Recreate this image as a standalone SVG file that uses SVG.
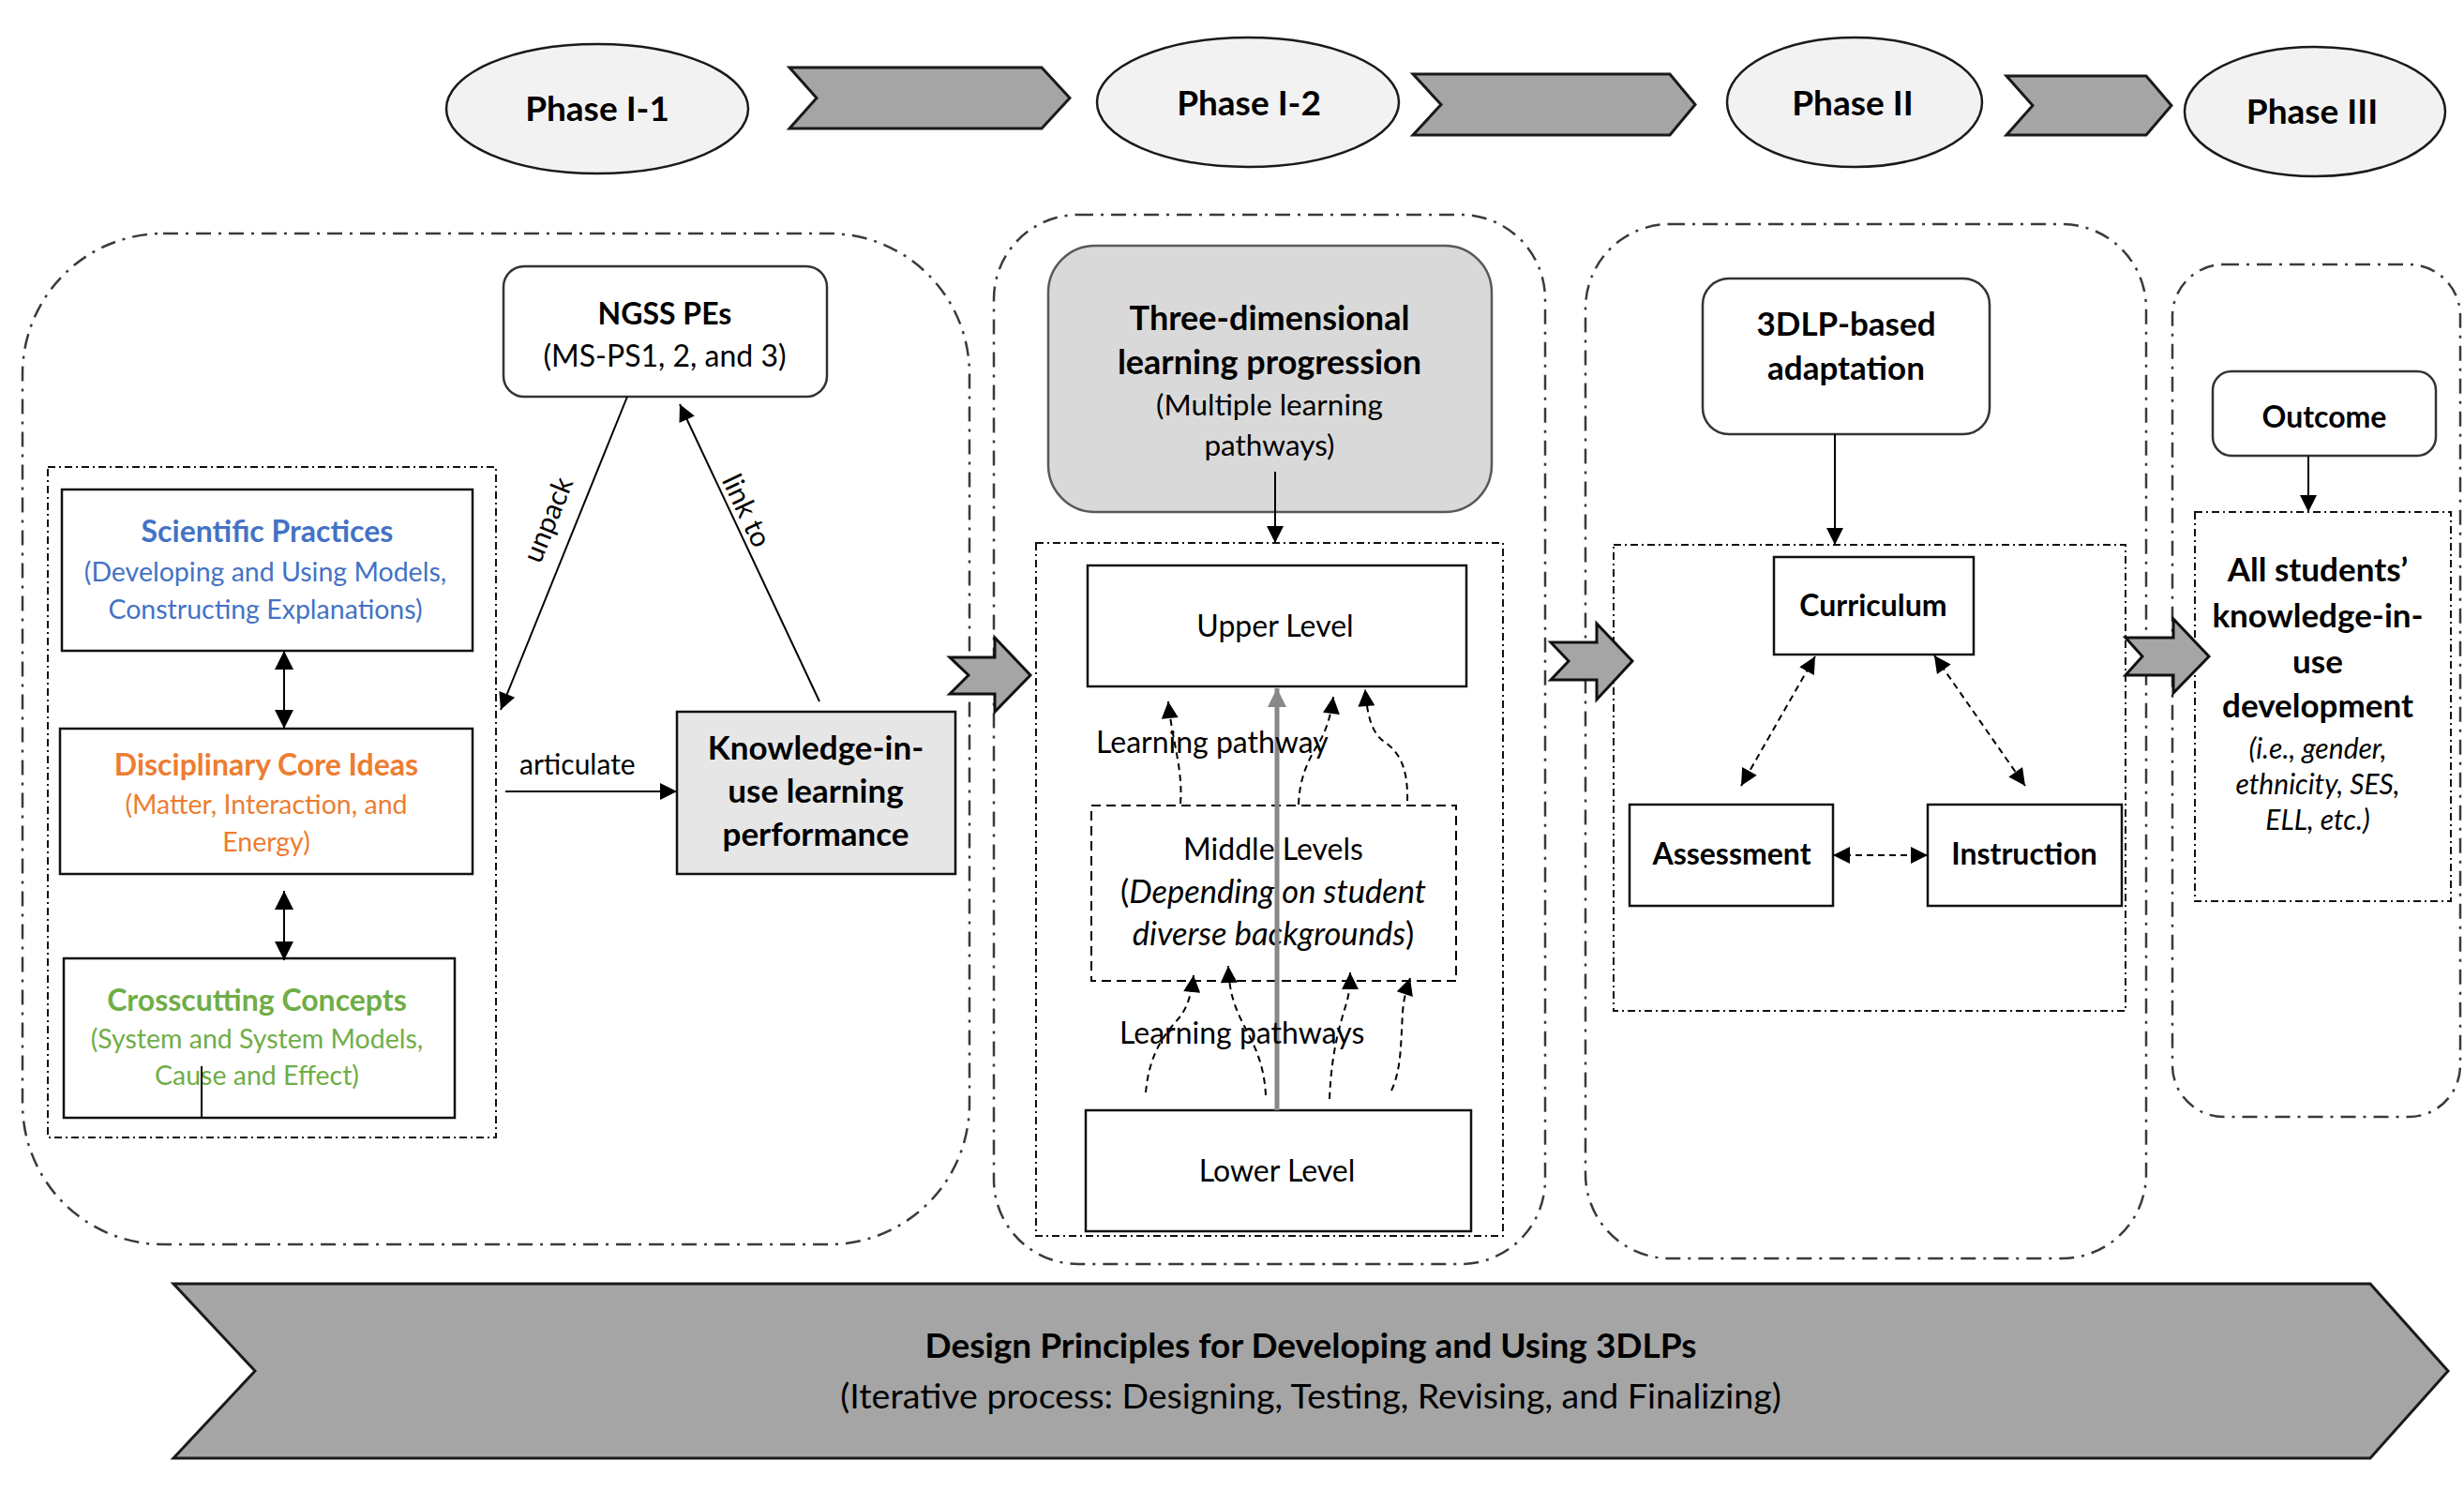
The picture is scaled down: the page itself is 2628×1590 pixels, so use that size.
<svg xmlns="http://www.w3.org/2000/svg" width="2628" height="1590" viewBox="0 0 2628 1590">
<style>
text{font-family:Lato,"Liberation Sans",sans-serif;fill:#000;}
.b{font-weight:bold;}
.c{text-anchor:middle;}
.ph{font-size:37px;font-weight:bold;text-anchor:middle;}
.t{font-size:32px;}
.s{font-size:30px;}
.n{font-size:28.5px;}
.k{font-size:35px;}
.ell{fill:#F2F2F2;stroke:#1a1a1a;stroke-width:2.5;}
.chev{fill:#A5A5A5;stroke:#1a1a1a;stroke-width:3;stroke-linejoin:miter;}
.cont{fill:none;stroke:#3a3a3a;stroke-width:2.5;stroke-dasharray:16 8 3 8;}
.inner{fill:none;stroke:#111;stroke-width:2;stroke-dasharray:8 4 2 4;}
.box{fill:#fff;stroke:#111;stroke-width:2.5;}
.rbox{fill:#fff;stroke:#333;stroke-width:2.5;}
.ln{fill:none;stroke:#000;stroke-width:2;}
.dash{fill:none;stroke:#000;stroke-width:2;stroke-dasharray:7 5;}
.blk{fill:#A5A5A5;stroke:#111;stroke-width:3;stroke-linejoin:miter;}
</style>
<defs>
<marker id="ah" viewBox="0 0 10 10" refX="10" refY="5" markerWidth="22" markerHeight="18" markerUnits="userSpaceOnUse" orient="auto-start-reverse"><path d="M0,0 L10,5 L0,10 z" fill="#000"/></marker>
<marker id="ahb" viewBox="0 0 10 10" refX="10" refY="5" markerWidth="28" markerHeight="20" markerUnits="userSpaceOnUse" orient="auto-start-reverse"><path d="M0,0 L10,5 L0,10 z" fill="#000"/></marker>
<marker id="ahg" viewBox="0 0 10 10" refX="10" refY="5" markerWidth="24" markerHeight="20" markerUnits="userSpaceOnUse" orient="auto"><path d="M0,0 L10,5 L0,10 z" fill="#888"/></marker>
</defs>

<!-- phase header -->
<g id="phase-i1"><ellipse class="ell" cx="637" cy="116" rx="161" ry="69"/><text class="ph" x="637" y="129">Phase I-1</text></g>
<g id="chev1"><path class="chev" d="M842,72 L1111,72 L1141,104.5 L1111,137 L842,137 L871,104.5 Z"/></g>
<g id="phase-i2"><ellipse class="ell" cx="1331" cy="109" rx="161" ry="69"/><text class="ph" x="1332" y="123">Phase I-2</text></g>
<g id="chev2"><path class="chev" d="M1507,79 L1781,79 L1808,111.5 L1781,144 L1507,144 L1537,111.5 Z"/></g>
<g id="phase-ii"><ellipse class="ell" cx="1978" cy="109" rx="136" ry="69"/><text class="ph" x="1976" y="123">Phase II</text></g>
<g id="chev3"><path class="chev" d="M2140,81 L2289,81 L2316,112.5 L2289,144 L2140,144 L2168,112.5 Z"/></g>
<g id="phase-iii"><ellipse class="ell" cx="2469" cy="119" rx="139" ry="69"/><text class="ph" x="2466" y="132">Phase III</text></g>

<!-- containers -->
<g id="container-phase-i1"><rect class="cont" x="24" y="249" width="1010" height="1078" rx="150" ry="150"/><rect class="inner" x="51" y="498" width="478" height="715"/></g>
<g id="container-phase-i2"><rect class="cont" x="1060" y="229" width="588" height="1119" rx="90" ry="90"/><rect class="inner" x="1105" y="579" width="498" height="739"/></g>
<g id="container-phase-ii"><rect class="cont" x="1691" y="239" width="598" height="1103" rx="90" ry="90"/><rect class="inner" x="1721" y="581" width="546" height="497"/></g>
<g id="container-phase-iii"><rect class="cont" x="2317" y="282" width="307" height="909" rx="55" ry="55"/><rect class="inner" x="2341" y="546" width="273" height="415"/></g>

<!-- block arrows between containers -->
<g id="blk1"><path class="blk" d="M1013,701 L1061,701 L1061,680 L1099,720 L1061,759 L1061,740 L1013,740 L1033,720 Z"/></g>
<g id="blk2"><path class="blk" d="M1654,685 L1703,685 L1703,665 L1741,705 L1703,746 L1703,725 L1654,725 L1673,705 Z"/></g>
<g id="blk3"><path class="blk" d="M2267,680 L2318,680 L2318,660 L2356,700 L2318,739 L2318,720 L2267,720 L2285,700 Z"/></g>

<!-- Phase I-1 nodes -->
<g id="ngss"><rect class="rbox" x="537" y="284" width="345" height="139" rx="22"/><text class="t b c" x="709" y="346">NGSS PEs</text><text class="t c" x="709" y="391">(MS-PS1, 2, and 3)</text></g>
<g id="sp"><rect class="box" x="66" y="522" width="438" height="172"/><text class="t b c" x="285" y="578" style="fill:#4472C4">Scientific Practices</text><text class="n c" x="283" y="620" style="fill:#4472C4">(Developing and Using Models,</text><text class="n c" x="283" y="660" style="fill:#4472C4">Constructing Explanations)</text></g>
<g id="dci"><rect class="box" x="64" y="777" width="440" height="155"/><text class="t b c" x="284" y="827" style="fill:#ED7D31">Disciplinary Core Ideas</text><text class="n c" x="284" y="868" style="fill:#ED7D31">(Matter, Interaction, and</text><text class="n c" x="284" y="908" style="fill:#ED7D31">Energy)</text></g>
<g id="cc"><rect class="box" x="68" y="1022" width="417" height="170"/><text class="t b c" x="274" y="1078" style="fill:#70AD47">Crosscutting Concepts</text><text class="n c" x="274" y="1118" style="fill:#70AD47">(System and System Models,</text><text class="n c" x="274" y="1157" style="fill:#70AD47">Cause and Effect)</text><line x1="215" y1="1137" x2="215" y2="1192" stroke="#000" stroke-width="2"/></g>
<g id="kiu"><rect x="722" y="759" width="297" height="173" fill="#E7E6E6" stroke="#111" stroke-width="2.5"/><text class="k b c" x="870" y="810">Knowledge-in-</text><text class="k b c" x="870" y="856">use learning</text><text class="k b c" x="870" y="902">performance</text></g>

<!-- Phase I-2 nodes -->
<g id="tdlp"><rect x="1118" y="262" width="473" height="284" rx="50" fill="#D9D9D9" stroke="#595959" stroke-width="2.5"/><text class="b c" font-size="36" x="1354" y="352">Three-dimensional</text><text class="b c" font-size="36" x="1354" y="399">learning progression</text><text class="c" font-size="31.5" x="1354" y="443">(Multiple learning</text><text class="c" font-size="31.5" x="1354" y="486">pathways)</text></g>
<g id="upper"><rect class="box" x="1160" y="603" width="404" height="129"/><text class="t c" x="1360" y="679">Upper Level</text></g>
<g id="middle"><rect x="1164" y="859" width="389" height="187" fill="none" stroke="#000" stroke-width="2" stroke-dasharray="10 6"/><text class="t c" x="1358" y="917">Middle Levels</text><text class="c" font-size="34.5" x="1358" y="963">(<tspan font-style="italic">Depending on student</tspan></text><text class="c" font-size="34.5" x="1358" y="1008"><tspan font-style="italic">diverse backgrounds</tspan>)</text></g>
<g id="lower"><rect class="box" x="1158" y="1184" width="411" height="129"/><text class="t c" x="1362" y="1260">Lower Level</text></g>

<!-- Phase II nodes -->
<g id="adapt"><rect class="rbox" x="1816" y="297" width="306" height="166" rx="28"/><text class="k b c" x="1969" y="358">3DLP-based</text><text class="k b c" x="1969" y="405">adaptation</text></g>
<g id="curr"><rect class="box" x="1892" y="594" width="213" height="104"/><text class="t b c" x="1998" y="657">Curriculum</text></g>
<g id="assess"><rect class="box" x="1738" y="858" width="217" height="108"/><text class="t b c" x="1847" y="922">Assessment</text></g>
<g id="instr"><rect class="box" x="2056" y="858" width="207" height="108"/><text class="t b c" x="2159" y="922">Instruction</text></g>

<!-- Phase III nodes -->
<g id="outcome"><rect class="rbox" x="2360" y="396" width="238" height="90" rx="20"/><text class="t b c" x="2479" y="456">Outcome</text></g>
<g id="students"><text class="k b c" x="2472" y="620">All students’</text><text class="k b c" x="2472" y="669">knowledge-in-</text><text class="k b c" x="2472" y="718">use</text><text class="k b c" x="2472" y="765">development</text><text class="s c" font-style="italic" x="2472" y="809">(i.e., gender,</text><text class="s c" font-style="italic" x="2472" y="847">ethnicity, SES,</text><text class="s c" font-style="italic" x="2472" y="885">ELL, etc.)</text></g>

<!-- bottom banner -->
<g id="design"><path class="chev" d="M185,1369 L2528,1369 L2611,1462 L2528,1555 L185,1555 L272,1462 Z"/><text class="b c" font-size="37" x="1398" y="1448">Design Principles for Developing and Using 3DLPs</text><text class="c" font-size="37.5" x="1398" y="1502">(Iterative process: Designing, Testing, Revising, and Finalizing)</text></g>

<!-- connectors -->
<g id="connectors">
<line class="ln" x1="669" y1="423" x2="534" y2="757" marker-end="url(#ah)"/>
<text class="s" transform="translate(594,558) rotate(-68)" text-anchor="middle">unpack</text>
<line class="ln" x1="874" y1="748" x2="725" y2="431" marker-end="url(#ah)"/>
<text class="s" transform="translate(787,549) rotate(64.8)" text-anchor="middle">link to</text>
<line class="ln" x1="539" y1="844" x2="722" y2="844" marker-end="url(#ah)"/>
<text class="s" x="554" y="826">articulate</text>
<line class="ln" x1="303" y1="694" x2="303" y2="777" stroke-width="2.5" marker-start="url(#ahb)" marker-end="url(#ahb)"/>
<line class="ln" x1="303" y1="950" x2="303" y2="1024" stroke-width="2.5" marker-start="url(#ahb)" marker-end="url(#ahb)"/>

<line class="ln" x1="1360" y1="503" x2="1360" y2="579" marker-end="url(#ah)"/>
<line x1="1362" y1="1184" x2="1362" y2="734" stroke="#888" stroke-width="5" marker-end="url(#ahg)"/>
<path class="dash" d="M1259,857 C1262,820 1250,790 1246,748" marker-end="url(#ah)"/>
<path class="dash" d="M1385,858 C1386,830 1395,810 1408,790 C1416,775 1420,760 1422,743" marker-end="url(#ah)"/>
<path class="dash" d="M1501,854 C1502,815 1490,800 1475,790 C1462,780 1458,760 1456,735" marker-end="url(#ah)"/>
<text class="t" x="1169" y="803">Learning pathway</text>
<path class="dash" d="M1222,1165 C1226,1120 1245,1100 1258,1085 C1266,1075 1271,1060 1273,1040" marker-end="url(#ah)"/>
<path class="dash" d="M1350,1168 C1348,1130 1335,1110 1325,1090 C1315,1070 1311,1055 1310,1030" marker-end="url(#ah)"/>
<path class="dash" d="M1418,1172 C1420,1120 1430,1090 1436,1070 C1439,1060 1440,1050 1440,1037" marker-end="url(#ah)"/>
<path class="dash" d="M1484,1163 C1495,1140 1494,1110 1496,1080 C1497,1065 1500,1055 1504,1043" marker-end="url(#ah)"/>
<text class="t" x="1194" y="1113">Learning pathways</text>

<line class="ln" x1="1957" y1="463" x2="1957" y2="581" marker-end="url(#ah)"/>
<line class="dash" x1="1936" y1="700" x2="1857" y2="838" marker-start="url(#ah)" marker-end="url(#ah)"/>
<line class="dash" x1="2063" y1="699" x2="2160" y2="838" marker-start="url(#ah)" marker-end="url(#ah)"/>
<line class="dash" x1="1955" y1="912" x2="2056" y2="912" marker-start="url(#ah)" marker-end="url(#ah)"/>

<line class="ln" x1="2462" y1="486" x2="2462" y2="546" marker-end="url(#ah)"/>
</g>
</svg>
